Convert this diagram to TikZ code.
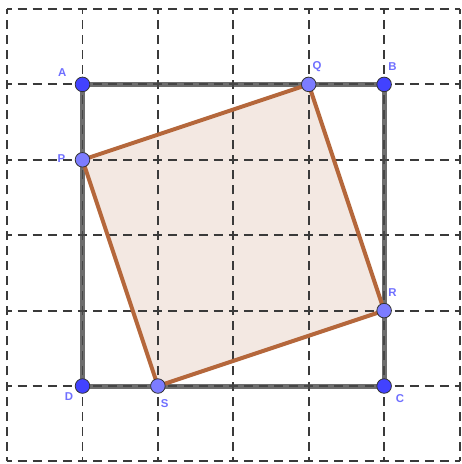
\documentclass[tikz,border=0pt]{standalone}
\usepackage{fontspec}
\setmainfont{Liberation Sans}
\definecolor{gridc}{HTML}{3A3A3A}
\definecolor{sqc}{HTML}{4A4A4A}
\definecolor{brownc}{HTML}{B5673B}
\definecolor{fillc}{HTML}{F3E8E2}
\definecolor{darkpt}{HTML}{4242FF}
\definecolor{lightpt}{HTML}{7C7CFF}
\definecolor{labc}{HTML}{6F6FFF}
\tikzset{
  gridline/.style={gridc, line width=0.75pt, dash pattern=on 3.4pt off 2.29pt, dash phase=1.7pt},
  sqedge/.style={sqc, line width=1.9pt, opacity=0.8},
  brownedge/.style={brownc, line width=1.5pt, line join=round},
  darkdot/.style={circle, fill=darkpt, draw=black!80, line width=0.3pt, minimum size=5.5pt, inner sep=0pt},
  lightdot/.style={circle, fill=lightpt, draw=black!80, line width=0.3pt, minimum size=5.5pt, inner sep=0pt},
  lab/.style={text=labc, font=\fontsize{4.3}{5}\selectfont\bfseries, inner sep=0pt}
}
\begin{document}
\begin{tikzpicture}
\useasboundingbox (-1.094,-1.034) rectangle (5.020,5.119);
\fill[white] (-1.094,-1.034) rectangle (5.020,5.119);
\coordinate (pA) at (0,4);
\coordinate (pB) at (4,4);
\coordinate (pC) at (4,0);
\coordinate (pD) at (0,0);
\coordinate (pP) at (0,3);
\coordinate (pQ) at (3,4);
\coordinate (pR) at (4,1);
\coordinate (pS) at (1,0);
\fill[fillc] (pP) -- (pQ) -- (pR) -- (pS) -- cycle;
\foreach \i in {-1,...,5} {
  \draw[gridline] (\i,-1) -- (\i,5);
  \draw[gridline] (-1,\i) -- (5,\i);
}
\draw[sqedge] (pA) -- (pB) -- (pC) -- (pD) -- cycle;
\draw[brownedge] (pP) -- (pQ) -- (pR) -- (pS) -- cycle;
\node[darkdot] (A) at (pA) {};
\node[darkdot] (B) at (pB) {};
\node[darkdot] (C) at (pC) {};
\node[darkdot] (D) at (pD) {};
\node[lightdot] (P) at (pP) {};
\node[lightdot] (Q) at (pQ) {};
\node[lightdot] (R) at (pR) {};
\node[lightdot] (S) at (pS) {};
\node[lab] (lA) at (-0.27,4.16) {A};
\node[lab] (lB) at (4.11,4.24) {B};
\node[lab] (lC) at (4.21,-0.16) {C};
\node[lab] (lD) at (-0.18,-0.14) {D};
\node[lab] (lP) at (-0.28,3.02) {P};
\node[lab] (lQ) at (3.11,4.23) {Q};
\node[lab] (lR) at (4.11,1.24) {R};
\node[lab] (lS) at (1.09,-0.23) {S};
\end{tikzpicture}
\end{document}
